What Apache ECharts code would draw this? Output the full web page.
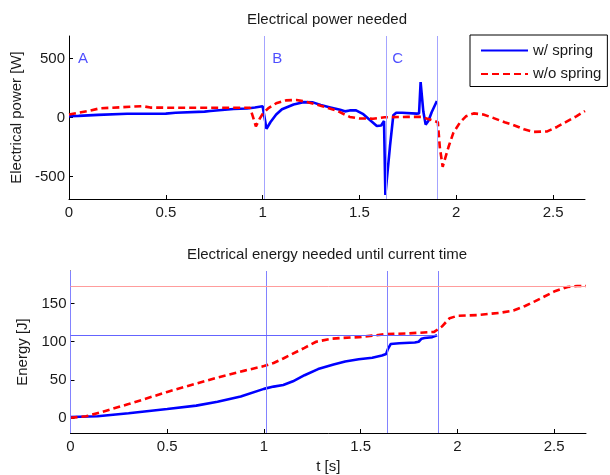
<!DOCTYPE html>
<html>
<head>
<meta charset="utf-8">
<script src="https://cdn.jsdelivr.net/npm/echarts@6/dist/echarts.min.js"></script>
<style>
html, body { margin: 0; padding: 0; background: #fff; }
#main { width: 610px; height: 475px; }
</style>
</head>
<body>
<div id="main"></div>
<script>
// [t (s), power (W)]
const powerSpring = [
  [0, 12], [0.05, 14], [0.15, 22], [0.16, 30], [0.3, 32], [0.5, 33], [0.55, 40],
  [0.7, 50], [0.73, 55], [0.85, 72], [0.92, 76], [0.96, 85], [1.0, 95], [1.008, 100],
  [1.02, -96], [1.04, -40], [1.07, 25], [1.1, 70], [1.16, 110], [1.21, 130], [1.26, 128],
  [1.3, 105], [1.35, 85], [1.4, 65], [1.425, 52], [1.45, 60], [1.48, 62], [1.52, 28],
  [1.56, -30], [1.59, -72], [1.612, -68], [1.627, -30], [1.634, -655], [1.658, -240],
  [1.675, 19], [1.69, 40], [1.72, 40], [1.795, 33], [1.808, 35], [1.816, 300], [1.83, 50],
  [1.842, -60], [1.856, -30], [1.873, 45], [1.9, 140]
];
const powerNoSpring = [
  [0, 25], [0.05, 40], [0.1, 55], [0.16, 78], [0.21, 82], [0.38, 96], [0.42, 84],
  [0.6, 82], [0.935, 82], [0.955, -20], [0.965, -75], [0.985, -10], [1.0, 30], [1.03, 80],
  [1.07, 120], [1.12, 145], [1.175, 148], [1.22, 135], [1.3, 100], [1.38, 60], [1.45, 5],
  [1.5, -8], [1.57, -10], [1.63, 2], [1.75, 5], [1.82, 5], [1.86, -15], [1.905, -40],
  [1.915, -250], [1.93, -418], [1.96, -250], [1.985, -130], [2.02, -40], [2.05, 10],
  [2.09, 35], [2.14, 25], [2.19, -3], [2.25, -40], [2.29, -60], [2.35, -100], [2.4, -122],
  [2.47, -118], [2.52, -80], [2.57, -35], [2.62, 10], [2.665, 55]
];
// [t (s), energy (J)]
const energySpring = [
  [0, 1], [0.14, 2], [0.3, 6], [0.5, 11.5], [0.65, 16], [0.76, 21], [0.88, 28], [1.0, 38],
  [1.05, 41], [1.1, 43], [1.15, 48], [1.21, 56], [1.28, 64], [1.36, 70], [1.42, 74],
  [1.49, 77], [1.56, 79], [1.61, 82], [1.632, 84], [1.64, 90], [1.655, 97], [1.7, 98],
  [1.78, 99], [1.8, 100], [1.815, 104], [1.83, 105], [1.87, 106], [1.895, 108.6]
];
const energyNoSpring = [
  [0, 0], [0.08, 2], [0.155, 7], [0.3, 18], [0.5, 34], [0.65, 45], [0.76, 53], [0.9, 62],
  [1.0, 68], [1.05, 72], [1.1, 78], [1.21, 92], [1.27, 100], [1.35, 104], [1.41, 105],
  [1.49, 106], [1.56, 108], [1.63, 110], [1.75, 111], [1.88, 113], [1.92, 120], [1.96, 131],
  [2.0, 134], [2.1, 135], [2.22, 138], [2.29, 141], [2.35, 147], [2.4, 153], [2.5, 166],
  [2.57, 172], [2.62, 173.3], [2.665, 173.3]
];
const phaseTimes = [1.013, 1.635, 1.895];
const phaseLabels = [[0.046, 500, 'A'], [1.05, 500, 'B'], [1.67, 500, 'C']];
const xTicks = [0, 0.5, 1, 1.5, 2, 2.5];
const powerTicks = [-500, 0, 500];
const energyTicks = [0, 50, 100, 150];

const font = 'Liberation Sans, Arial, sans-serif';
const maxOf = arr => Math.max(...arr.map(p => p[1]));
const lastT = arr => arr[arr.length - 1][0];

function xAxisFor(gi, name) {
  return {
    type: 'value', gridIndex: gi, min: 0, max: 2.665,
    name: name || '', nameLocation: 'middle', nameGap: 26,
    nameTextStyle: { fontFamily: font, fontSize: 15, color: '#1a1a1a' },
    axisLine: { onZero: false, lineStyle: { color: '#000', width: 1 } },
    axisTick: { inside: true, length: 4, customValues: xTicks, lineStyle: { color: '#000' } },
    axisLabel: { customValues: xTicks, fontFamily: font, fontSize: 15, color: '#1a1a1a', margin: 6 },
    splitLine: { show: false }
  };
}
function yAxisFor(gi, min, max, ticks, name, gap) {
  return {
    type: 'value', gridIndex: gi, min: min, max: max,
    name: name, nameLocation: 'middle', nameGap: gap,
    nameTextStyle: { fontFamily: font, fontSize: 15, color: '#1a1a1a' },
    axisLine: { show: true, onZero: false, lineStyle: { color: '#000', width: 1 } },
    axisTick: { show: true, inside: true, length: 4, customValues: ticks, lineStyle: { color: '#000' } },
    axisLabel: { customValues: ticks, fontFamily: font, fontSize: 15, color: '#1a1a1a', margin: 4 },
    splitLine: { show: false }
  };
}

const chart = echarts.init(document.getElementById('main'), null, { renderer: 'canvas' });
chart.setOption({
  animation: false,
  backgroundColor: '#fff',
  graphic: [
    { type: 'text', x: 327, y: 20, style: { text: 'Electrical power needed', font: '15px ' + font, fill: '#1a1a1a', align: 'center', verticalAlign: 'middle' } },
    { type: 'text', x: 327, y: 255, style: { text: 'Electrical energy needed until current time', font: '15px ' + font, fill: '#1a1a1a', align: 'center', verticalAlign: 'middle' } }
  ],
  legend: {
    left: 470, top: 35, orient: 'vertical',
    data: ['w/ spring', 'w/o spring'],
    backgroundColor: '#fff', borderColor: '#000', borderWidth: 1,
    padding: [8, 6, 5, 10], itemWidth: 47, itemHeight: 14, itemGap: 8.5,
    itemStyle: { opacity: 0 },
    textStyle: { fontFamily: font, fontSize: 15, color: '#1a1a1a' },
    z: 10
  },
  grid: [
    { left: 69, top: 36, right: 25, height: 163 },
    { left: 70.5, top: 271, right: 24, height: 163 }
  ],
  xAxis: [xAxisFor(0), xAxisFor(1, 't [s]')],
  yAxis: [
    yAxisFor(0, -690, 690, powerTicks, 'Electrical power [W]', 38),
    yAxisFor(1, -20, 193, energyTicks, 'Energy [J]', 35)
  ],
  series: [
    {
      name: 'w/ spring', type: 'line', xAxisIndex: 0, yAxisIndex: 0, data: powerSpring,
      symbol: 'none', lineStyle: { color: '#0000ff', width: 2.6 }, itemStyle: { color: '#0000ff' },
      markLine: {
        silent: true, symbol: ['none', 'none'], label: { show: false },
        lineStyle: { color: '#a4a4ff', width: 1, type: 'solid' },
        data: phaseTimes.map(t => ({ xAxis: t }))
      }
    },
    {
      name: 'w/o spring', type: 'line', xAxisIndex: 0, yAxisIndex: 0, data: powerNoSpring,
      symbol: 'none', lineStyle: { color: '#ff0000', width: 2.6, type: [7, 4] }, itemStyle: { color: '#ff0000' }
    },
    {
      name: 'w/ spring', type: 'line', xAxisIndex: 1, yAxisIndex: 1, data: energySpring,
      symbol: 'none', lineStyle: { color: '#0000ff', width: 2.6 }, itemStyle: { color: '#0000ff' },
      markLine: {
        silent: true, symbol: ['none', 'none'], label: { show: false },
        lineStyle: { color: '#8282ff', width: 1, type: 'solid' },
        data: [0].concat(phaseTimes).map(t => ({ xAxis: t })).concat([
          [{ coord: [0, maxOf(energySpring)], lineStyle: { color: '#6464ff' } },
           { coord: [lastT(energySpring), maxOf(energySpring)] }],
          [{ coord: [0, maxOf(energyNoSpring)], lineStyle: { color: '#ff9c9c' } },
           { coord: [lastT(energyNoSpring), maxOf(energyNoSpring)] }]
        ])
      }
    },
    {
      name: 'w/o spring', type: 'line', xAxisIndex: 1, yAxisIndex: 1, data: energyNoSpring,
      symbol: 'none', lineStyle: { color: '#ff0000', width: 2.6, type: [7, 4] }, itemStyle: { color: '#ff0000' }
    },
    {
      type: 'scatter', xAxisIndex: 0, yAxisIndex: 0, data: phaseLabels,
      symbolSize: 0, silent: true,
      label: {
        show: true, position: 'right', distance: 0,
        formatter: p => p.value[2],
        fontFamily: font, fontSize: 15, color: '#1f1fff'
      }
    }
  ]
});
</script>
</body>
</html>
